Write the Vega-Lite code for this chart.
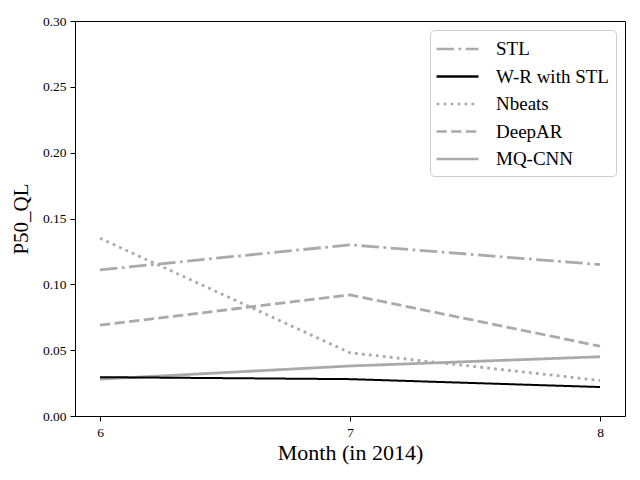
{
  "$schema": "https://vega.github.io/schema/vega-lite/v6.json",
  "width": 550,
  "height": 395,
  "autosize": "none",
  "padding": {"left": 75, "top": 21, "right": 15, "bottom": 64},
  "background": "white",
  "data": {
    "values": [
      {"month": 6, "model": "STL", "ql": 0.111},
      {"month": 7, "model": "STL", "ql": 0.130},
      {"month": 8, "model": "STL", "ql": 0.115},
      {"month": 6, "model": "W-R with STL", "ql": 0.0295},
      {"month": 7, "model": "W-R with STL", "ql": 0.028},
      {"month": 8, "model": "W-R with STL", "ql": 0.022},
      {"month": 6, "model": "Nbeats", "ql": 0.135},
      {"month": 7, "model": "Nbeats", "ql": 0.048},
      {"month": 8, "model": "Nbeats", "ql": 0.027},
      {"month": 6, "model": "DeepAR", "ql": 0.069},
      {"month": 7, "model": "DeepAR", "ql": 0.092},
      {"month": 8, "model": "DeepAR", "ql": 0.053},
      {"month": 6, "model": "MQ-CNN", "ql": 0.028},
      {"month": 7, "model": "MQ-CNN", "ql": 0.038},
      {"month": 8, "model": "MQ-CNN", "ql": 0.045}
    ]
  },
  "encoding": {
    "x": {
      "field": "month",
      "type": "quantitative",
      "title": "Month (in 2014)",
      "scale": {"domain": [5.9, 8.1], "nice": false, "zero": false},
      "axis": {
        "values": [6, 7, 8],
        "format": "d",
        "grid": false,
        "domain": false,
        "tickColor": "black",
        "tickSize": 5,
        "labelFont": "Liberation Serif",
        "labelFontSize": 13.5,
        "labelColor": "black",
        "labelPadding": 4,
        "titleFont": "Liberation Serif",
        "titleFontSize": 22,
        "titleFontWeight": "normal",
        "titleColor": "black",
        "titlePadding": 4
      }
    },
    "y": {
      "field": "ql",
      "type": "quantitative",
      "title": "P50_QL",
      "scale": {"domain": [0, 0.3], "nice": false},
      "axis": {
        "values": [0, 0.05, 0.1, 0.15, 0.2, 0.25, 0.3],
        "format": ".2f",
        "grid": false,
        "domain": false,
        "tickColor": "black",
        "tickSize": 5,
        "labelFont": "Liberation Serif",
        "labelFontSize": 13.5,
        "labelColor": "black",
        "labelPadding": 4,
        "titleFont": "Liberation Serif",
        "titleFontSize": 21,
        "titleFontWeight": "normal",
        "titleColor": "black",
        "titlePadding": 11
      }
    },
    "color": {
      "field": "model",
      "type": "nominal",
      "title": null,
      "scale": {
        "domain": ["STL", "W-R with STL", "Nbeats", "DeepAR", "MQ-CNN"],
        "range": ["#aaaaaa", "#000000", "#aaaaaa", "#aaaaaa", "#aaaaaa"]
      },
      "legend": {
        "orient": "top-right",
        "offset": 9,
        "padding": 7,
        "strokeColor": "#cccccc",
        "cornerRadius": 4,
        "fillColor": "white",
        "symbolType": "M-1.19,0H2.81",
        "symbolSize": 441,
        "symbolStrokeWidth": 2.6,
        "symbolFillColor": "transparent",
        "labelFont": "Liberation Serif",
        "labelFontSize": 19,
        "labelColor": "black",
        "labelOffset": 35,
        "rowPadding": 5.5
      }
    },
    "strokeDash": {
      "field": "model",
      "type": "nominal",
      "title": null,
      "scale": {
        "domain": ["STL", "W-R with STL", "Nbeats", "DeepAR", "MQ-CNN"],
        "range": [[17.5, 4.5, 2.7, 4.5], [1, 0], [2.8, 4.2], [10.3, 4.4], [1, 0]]
      }
    }
  },
  "layer": [
    {
      "transform": [{"filter": "datum.model != 'W-R with STL'"}],
      "mark": {"type": "line", "strokeWidth": 2.8, "clip": true}
    },
    {
      "transform": [{"filter": "datum.model == 'W-R with STL'"}],
      "mark": {"type": "line", "strokeWidth": 2, "clip": true}
    }
  ],
  "config": {
    "view": {"stroke": "black", "strokeWidth": 1},
    "legend": {"labelFont": "Liberation Serif"}
  }
}
